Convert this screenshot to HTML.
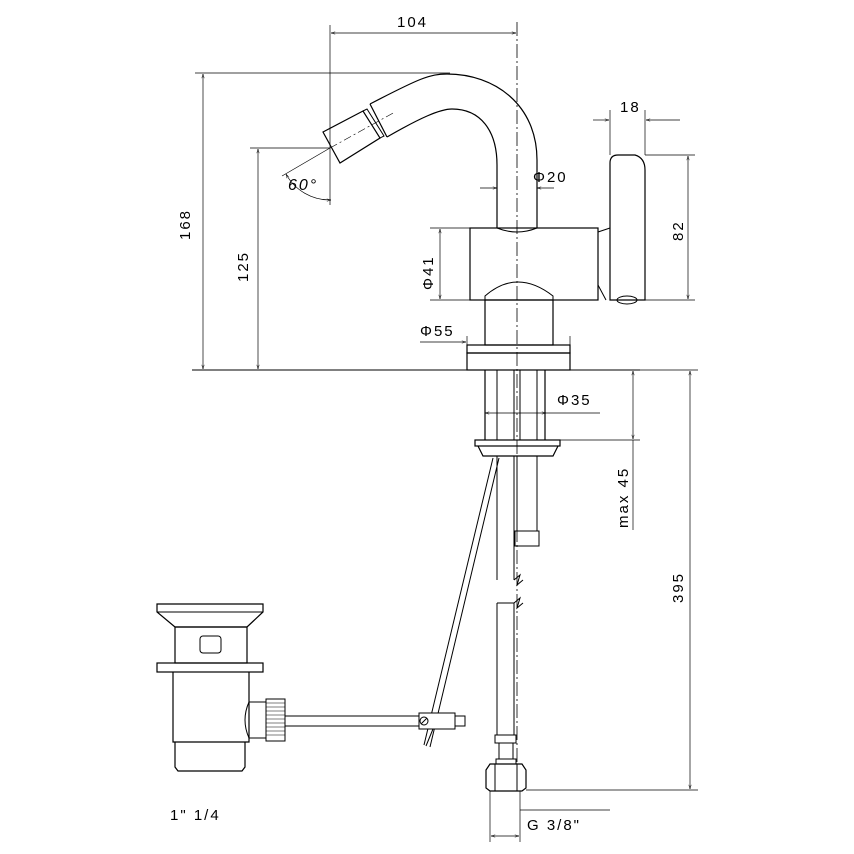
<!DOCTYPE html>
<html><head><meta charset="utf-8"><style>
html,body{margin:0;padding:0;background:#fff}
svg{display:block}
text{font-family:"Liberation Sans",sans-serif;font-size:15px;fill:#000;letter-spacing:2px}
</style></head><body>
<svg width="854" height="854" viewBox="0 0 854 854" xmlns="http://www.w3.org/2000/svg">
<defs>
<marker id="a" viewBox="0 0 10 10" refX="10" refY="5" markerWidth="9" markerHeight="6" orient="auto-start-reverse"><path d="M0,2 L10,5 L0,8" fill="none" stroke="#000" stroke-width="1"/></marker>
</defs>
<g fill="none" stroke="#000" stroke-width="1">
<line x1="517" y1="22" x2="517" y2="770" stroke-dasharray="14,3,2,3" stroke-width="0.8"/>
<line x1="330" y1="25" x2="330" y2="150" stroke-width="0.7"/>
<line x1="331" y1="33" x2="516" y2="33" marker-start="url(#a)" marker-end="url(#a)" stroke-width="0.7"/>
<line x1="195" y1="73" x2="450" y2="73" stroke-width="0.7"/>
<line x1="203" y1="74" x2="203" y2="369" marker-start="url(#a)" marker-end="url(#a)" stroke-width="0.7"/>
<line x1="250" y1="148" x2="330" y2="148" stroke-width="0.7"/>
<line x1="258" y1="149" x2="258" y2="369" marker-start="url(#a)" marker-end="url(#a)" stroke-width="0.7"/>
<line x1="192" y1="370" x2="640" y2="370"/>
<!-- spout -->
<path d="M537,228 L537,160 C537,105 495,74 447,74 C430,74 420,78 370,104" stroke-width="1.2"/>
<path d="M497,228 L497,165 C497,130 480,109 452,109 C440,109 420,118 387,137" stroke-width="1.2"/>
<line x1="370" y1="104" x2="387" y2="137" stroke-width="1.2"/>
<path d="M323,132 L363,111 L380,138 L340,163 Z" stroke-width="1.2"/>
<path d="M363,111 L367,109 L384,136 L380,138"/>
<line x1="330" y1="148" x2="395" y2="112" stroke-width="0.6" stroke-dasharray="8,3,2,3"/>
<!-- 60 deg -->
<line x1="330" y1="148" x2="282" y2="176" stroke-width="0.7"/>
<path d="M286,174 A50,50 0 0 0 331,200" marker-start="url(#a)" marker-end="url(#a)" stroke-width="0.7"/>
<line x1="330" y1="150" x2="330" y2="205" stroke-width="0.7"/>
<line x1="480" y1="188" x2="497" y2="188" marker-end="url(#a)" stroke-width="0.7"/>
<line x1="554" y1="188" x2="537" y2="188" marker-end="url(#a)" stroke-width="0.7"/>
<rect x="470" y="228" width="128" height="72" stroke-width="1.2"/>
<path d="M497,228 Q517,236 537,228"/>
<path d="M485,300 L485,296 Q517,268 553,296 L553,300"/>
<line x1="430" y1="228" x2="470" y2="228" stroke-width="0.7"/>
<line x1="430" y1="300" x2="470" y2="300" stroke-width="0.7"/>
<line x1="440" y1="229" x2="440" y2="299" marker-start="url(#a)" marker-end="url(#a)" stroke-width="0.7"/>
<path d="M610,300 L610,163 Q610,155 618,155 L635,155 Q645,158 645,170 L645,300 Z" stroke-width="1.2"/>
<path d="M598,232 L610,228 M598,285 L606,300"/>
<ellipse cx="627" cy="300" rx="10" ry="4"/>
<line x1="610" y1="110" x2="610" y2="155" stroke-width="0.7"/>
<line x1="645" y1="110" x2="645" y2="155" stroke-width="0.7"/>
<line x1="593" y1="120" x2="609" y2="120" marker-end="url(#a)" stroke-width="0.7"/>
<line x1="680" y1="120" x2="646" y2="120" marker-end="url(#a)" stroke-width="0.7"/>
<line x1="645" y1="155" x2="695" y2="155" stroke-width="0.7"/>
<line x1="645" y1="300" x2="695" y2="300" stroke-width="0.7"/>
<line x1="688" y1="156" x2="688" y2="299" marker-start="url(#a)" marker-end="url(#a)" stroke-width="0.7"/>
<rect x="485" y="300" width="68" height="45" stroke-width="1.2"/>
<rect x="467" y="345" width="103" height="8" stroke-width="1.2"/>
<rect x="467" y="353" width="103" height="17" stroke-width="1.2"/>
<line x1="467" y1="336" x2="467" y2="345" stroke-width="0.7"/>
<line x1="570" y1="336" x2="570" y2="345" stroke-width="0.7"/>
<line x1="420" y1="342" x2="466" y2="342" marker-end="url(#a)" stroke-width="0.7"/>
<line x1="485" y1="370" x2="485" y2="440" stroke-width="1.2"/>
<line x1="545" y1="370" x2="545" y2="440" stroke-width="1.2"/>
<line x1="497" y1="370" x2="497" y2="440"/>
<line x1="514" y1="370" x2="514" y2="440"/>
<line x1="520" y1="370" x2="520" y2="440"/>
<line x1="537" y1="370" x2="537" y2="440"/>
<line x1="485" y1="413" x2="546" y2="413" marker-start="url(#a)" marker-end="url(#a)" stroke-width="0.7"/>
<line x1="546" y1="413" x2="600" y2="413" stroke-width="0.7"/>
<rect x="475" y="440" width="85" height="6" stroke-width="1.2"/>
<path d="M478,446 L483,456 L553,456 L558,446" stroke-width="1.2"/>
<line x1="545" y1="440" x2="640" y2="440" stroke-width="0.7"/>
<line x1="633" y1="371" x2="633" y2="439" marker-start="url(#a)" marker-end="url(#a)" stroke-width="0.7"/>
<line x1="633" y1="440" x2="633" y2="530" stroke-width="0.7"/>
<rect x="517" y="456" width="20" height="75"/>
<rect x="515" y="531" width="24" height="15"/>
<line x1="497" y1="456" x2="497" y2="580"/>
<line x1="514" y1="456" x2="514" y2="580"/>
<path d="M514,580 L520,575 L517,585 L523,580"/>
<line x1="497" y1="603" x2="514" y2="603"/>
<line x1="497" y1="603" x2="497" y2="735"/>
<line x1="514" y1="603" x2="514" y2="735"/>
<path d="M514,603 L520,598 L517,608 L523,603"/>
<rect x="495" y="735" width="21" height="8"/>
<rect x="499" y="743" width="14" height="16"/>
<rect x="496" y="759" width="20" height="5"/>
<path d="M486,770 L490,764 L522,764 L526,770 L526,788 L522,791 L490,791 L486,788 Z" stroke-width="1.2"/>
<line x1="495" y1="764" x2="495" y2="791"/><line x1="517" y1="764" x2="517" y2="791"/>
<line x1="640" y1="370" x2="698" y2="370" stroke-width="0.7"/>
<line x1="526" y1="790" x2="698" y2="790" stroke-width="0.7"/>
<line x1="690" y1="371" x2="690" y2="789" marker-start="url(#a)" marker-end="url(#a)" stroke-width="0.7"/>
<line x1="490" y1="791" x2="490" y2="842" stroke-width="0.7"/>
<line x1="520" y1="791" x2="520" y2="842" stroke-width="0.7"/>
<line x1="491" y1="836" x2="519" y2="836" marker-start="url(#a)" marker-end="url(#a)" stroke-width="0.7"/>
<line x1="520" y1="810" x2="610" y2="810" stroke-width="0.7"/>
<line x1="493" y1="458" x2="424" y2="745"/>
<line x1="499" y1="458" x2="430" y2="747"/>
<path d="M157,604 L263,604 L263,612 L247,627 L175,627 L157,612 Z" stroke-width="1.2"/>
<line x1="157" y1="612" x2="263" y2="612"/>
<rect x="175" y="627" width="72" height="36" stroke-width="1.2"/>
<rect x="200" y="636" width="21" height="17" rx="3"/>
<rect x="157" y="663" width="106" height="9" stroke-width="1.2"/>
<path d="M173,672 L173,742 L249,742 L249,672" stroke-width="1.2"/>
<path d="M175,742 L175,767 L178,771 L242,771 L245,767 L245,742" stroke-width="1.2"/>
<path d="M249,702 L266,702 L266,738 L249,738 Q241,720 249,702"/>
<rect x="266" y="699" width="19" height="42" fill="#fff"/>
<g stroke-width="0.6"><line x1="266" y1="703" x2="285" y2="703"/><line x1="266" y1="707" x2="285" y2="707"/><line x1="266" y1="711" x2="285" y2="711"/><line x1="266" y1="715" x2="285" y2="715"/><line x1="266" y1="719" x2="285" y2="719"/><line x1="266" y1="723" x2="285" y2="723"/><line x1="266" y1="727" x2="285" y2="727"/><line x1="266" y1="731" x2="285" y2="731"/><line x1="266" y1="735" x2="285" y2="735"/></g>
<rect x="285" y="716" width="135" height="10"/>
<rect x="419" y="713" width="36" height="16" fill="#fff"/>
<rect x="455" y="716" width="10" height="10"/>
<circle cx="424" cy="721" r="4"/>
<line x1="421" y1="724" x2="427" y2="718"/>
<line x1="433" y1="729" x2="426" y2="746"/>
</g>
<g>
<text x="397" y="27">104</text>
<text x="620" y="112">18</text>
<text x="533" y="182">Φ20</text>
<text x="288" y="190" style="font-size:16px;font-style:italic">60°</text>
<text x="420" y="336">Φ55</text>
<text x="557" y="405">Φ35</text>
<text x="170" y="820">1"  1/4</text>
<text x="527" y="830">G 3/8"</text>
<text transform="translate(190,240) rotate(-90)">168</text>
<text transform="translate(248,282) rotate(-90)">125</text>
<text transform="translate(433,290) rotate(-90)">Φ41</text>
<text transform="translate(683,241) rotate(-90)">82</text>
<text transform="translate(628,528) rotate(-90)">max 45</text>
<text transform="translate(683,603) rotate(-90)">395</text>
</g>
</svg>
</body></html>
